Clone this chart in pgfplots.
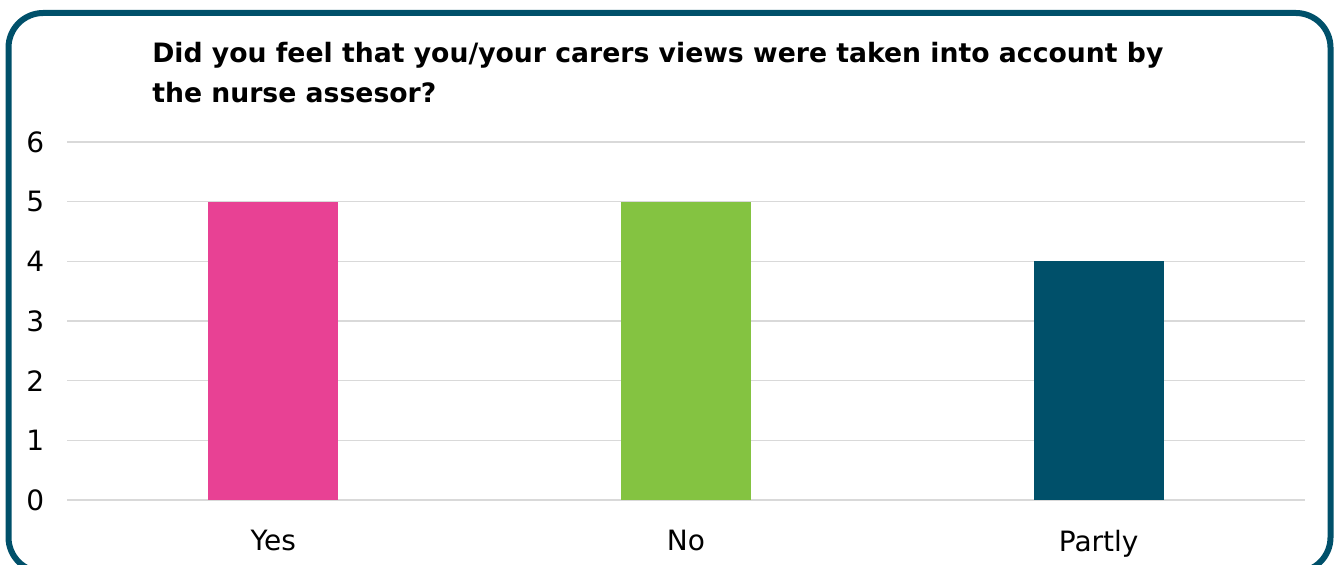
\documentclass[border=0pt]{standalone}
\usepackage{pgfplots}
\pgfplotsset{compat=1.18}
\usepackage{fontspec}
\setmainfont{DejaVu Sans}
\definecolor{pinkc}{HTML}{E84194}
\definecolor{greenc}{HTML}{84C341}
\definecolor{tealc}{HTML}{00506A}
\definecolor{gridc}{HTML}{D9D9D9}
\begin{document}
\begin{tikzpicture}[x=0.75pt,y=0.75pt]
\useasboundingbox (0,0) rectangle (1334,564);
\begin{scope}
\clip (0,0) rectangle (1334,564);
\draw[tealc, line width=4.5pt, rounded corners=26pt] (8.5,551) rectangle (1330.5,-8);
\end{scope}
\node[anchor=north west, align=left, font=\bfseries\fontsize{20pt}{30pt}\selectfont, inner sep=0pt] at (152,522)
 {Did you feel that you/your carers views were taken into account by\\the nurse assesor?};
\begin{axis}[
  at={(50.25pt,48pt)}, anchor=south west,
  scale only axis, width=928.5pt, height=268.5pt,
  xmin=-0.5, xmax=2.5, ymin=0, ymax=6,
  ytick={0,1,2,3,4,5,6},
  xtick={0,1,2}, xticklabels={Yes,No,Partly},
  axis line style={draw=none}, major tick style={draw=none},
  ymajorgrids, grid style={gridc, line width=1.2pt},
  ybar, bar width=97.5pt, bar shift=0pt,
  /pgf/number format/assume math mode=true,
  ticklabel style={font=\fontsize{21pt}{25pt}\selectfont},
  yticklabel style={inner sep=0pt, xshift=-17pt},
  xticklabel style={inner sep=0pt, yshift=-18pt},
  clip=false,
]
\addplot[fill=pinkc, draw=none] coordinates {(0,5)};
\addplot[fill=greenc, draw=none] coordinates {(1,5)};
\addplot[fill=tealc, draw=none] coordinates {(2,4)};
\end{axis}
\end{tikzpicture}
\end{document}
